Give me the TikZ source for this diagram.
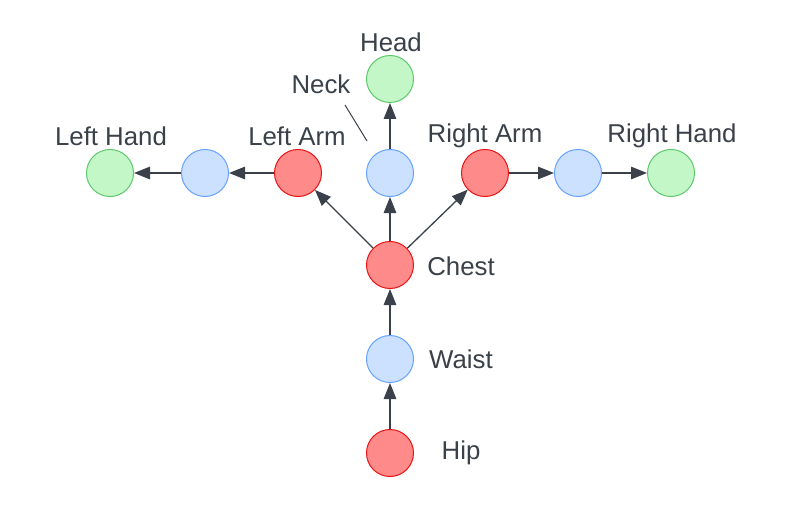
\documentclass[tikz,border=0pt]{standalone}
\usepackage{fontspec}
\setmainfont{Liberation Sans}
\usetikzlibrary{arrows.meta}
\definecolor{txt}{HTML}{3A414A}
\definecolor{redf}{HTML}{FF8A8A}
\definecolor{reds}{HTML}{E81313}
\definecolor{bluef}{HTML}{CCE0FF}
\definecolor{blues}{HTML}{66A3FF}
\definecolor{greenf}{HTML}{C3F7C8}
\definecolor{greens}{HTML}{5CC96B}
\tikzset{
  jt/.style={circle, minimum size=47pt, inner sep=0pt, line width=1pt},
  jred/.style={jt, fill=redf, draw=reds},
  jblue/.style={jt, fill=bluef, draw=blues},
  jgreen/.style={jt, fill=greenf, draw=greens},
  lbl/.style={text=txt, font=\fontsize{25.8}{29}\selectfont, inner sep=0pt},
  conn/.style={draw=txt, line width=1.3pt, -{Triangle[length=16pt,width=12.5pt]}},
}
\begin{document}
\begin{tikzpicture}[x=1pt,y=-1pt]
\useasboundingbox (0,0) rectangle (793,508);
\fill[white] (0,0) rectangle (793,508);
\node[jgreen] (head) at (390,79) {};
\node[jblue] (neck) at (390,173) {};
\node[jred] (larm) at (298,173) {};
\node[jblue] (lmid) at (205,173) {};
\node[jgreen] (lhand) at (110,173) {};
\node[jred] (rarm) at (485,173) {};
\node[jblue] (rmid) at (578,173) {};
\node[jgreen] (rhand) at (671,173) {};
\node[jred] (chest) at (390,265) {};
\node[jblue] (waist) at (390,359) {};
\node[jred] (hip) at (390,453) {};

\node[lbl] (thead) at (391,42) {Head};
\node[lbl] (tneck) at (321,84) {Neck};
\node[lbl] (tlhand) at (111,136) {Left Hand};
\node[lbl] (tlarm) at (297,136) {Left Arm};
\node[lbl] (trarm) at (485,136) {Right Arm};
\node[lbl] (trhand) at (672,136) {Right Hand};
\node[lbl] (tchest) at (461,266) {Chest};
\node[lbl] (twaist) at (461,359) {Waist};
\node[lbl] (thip) at (461,453) {Hip};

\coordinate (n1) at (345,105);
\coordinate (n2) at (367,141);
\draw[txt, line width=1pt] (n1) -- (n2);

\draw[conn] (hip) -- (waist);
\draw[conn] (waist) -- (chest);
\draw[conn] (chest) -- (neck);
\draw[conn] (neck) -- (head);
\draw[conn] (chest) -- (larm);
\draw[conn] (chest) -- (rarm);
\draw[conn] (larm) -- (lmid);
\draw[conn] (lmid) -- (lhand);
\draw[conn] (rarm) -- (rmid);
\draw[conn] (rmid) -- (rhand);
\end{tikzpicture}
\end{document}
